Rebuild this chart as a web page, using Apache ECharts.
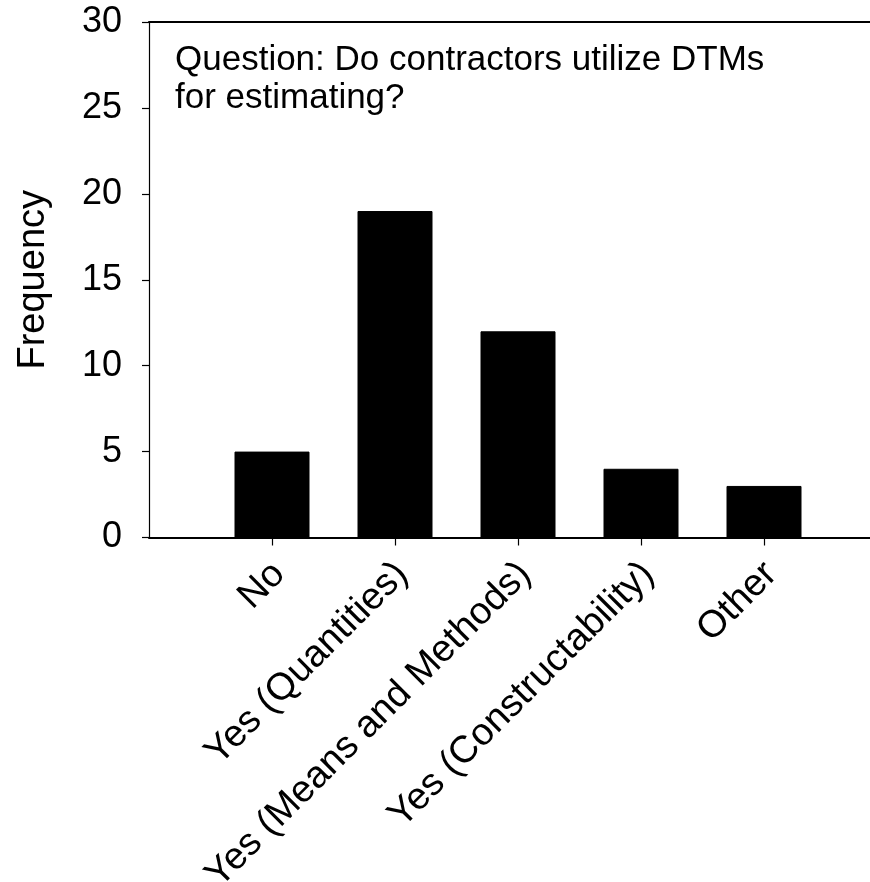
<!DOCTYPE html>
<html>
<head>
<meta charset="utf-8">
<script src="https://cdn.jsdelivr.net/npm/echarts@6/dist/echarts.min.js"></script>
<style>
html,body{margin:0;padding:0;background:#fff;}
#chart{width:870px;height:882px;}
</style>
</head>
<body>
<div id="chart"></div>
<script>
var categories = ['No', 'Yes (Quantities)', 'Yes (Means and Methods)', 'Yes (Constructability)', 'Other'];
var frequency = [5, 19, 12, 4, 3];
var yTicks = [0, 5, 10, 15, 20, 25, 30];
var titleLines = ['Question: Do contractors utilize DTMs', 'for estimating?'];
var yName = 'Frequency';

var FONT = '"Liberation Sans", Arial, sans-serif';
var paddedCats = [''].concat(categories, ['']);
var paddedVals = [null].concat(frequency, [null]);

var chart = echarts.init(document.getElementById('chart'), null, {renderer: 'canvas'});
chart.setOption({
  animation: false,
  backgroundColor: '#ffffff',
  grid: {left: 149, right: -17, top: 22, bottom: 344.5, containLabel: false, outerBoundsMode: 'none'},
  xAxis: [{
    type: 'category',
    data: paddedCats,
    boundaryGap: false,
    position: 'bottom',
    axisLine: {show: true, lineStyle: {color: '#000', width: 2}},
    axisTick: {show: true, length: 8, lineStyle: {color: '#000', width: 1.2},
      interval: function (idx, val) { return val !== ''; }},
    axisLabel: {interval: 0, rotate: 45, margin: 38, padding: [0, -10, 0, 0],
      hideOverlap: false,
      color: '#000', fontSize: 38, fontFamily: FONT},
    splitLine: {show: false}
  }, {
    type: 'category',
    data: paddedCats,
    boundaryGap: false,
    position: 'top',
    axisLine: {show: true, lineStyle: {color: '#000', width: 2}},
    axisTick: {show: false},
    axisLabel: {show: false},
    splitLine: {show: false}
  }],
  yAxis: {
    type: 'value',
    min: yTicks[0],
    max: yTicks[yTicks.length - 1],
    interval: 5,
    name: yName,
    nameLocation: 'middle',
    nameGap: 96,
    nameMoveOverlap: false,
    nameTextStyle: {color: '#000', fontSize: 38, fontFamily: FONT},
    axisLine: {show: true, lineStyle: {color: '#000', width: 1.2}},
    axisTick: {show: true, length: 7, lineStyle: {color: '#000', width: 1.2}},
    axisLabel: {margin: 27, color: '#000', fontSize: 36, fontFamily: FONT},
    splitLine: {show: false}
  },
  series: [{
    type: 'bar',
    xAxisIndex: 0,
    data: paddedVals,
    barWidth: 75,
    itemStyle: {color: '#000', borderColor: '#000', borderWidth: 1}
  }],
  graphic: [{
    type: 'text',
    left: 175,
    top: 41,
    style: {
      text: titleLines.join('\n'),
      fontSize: 35,
      lineHeight: 38,
      fontFamily: FONT,
      fill: '#000'
    }
  }]
});
</script>
</body>
</html>
